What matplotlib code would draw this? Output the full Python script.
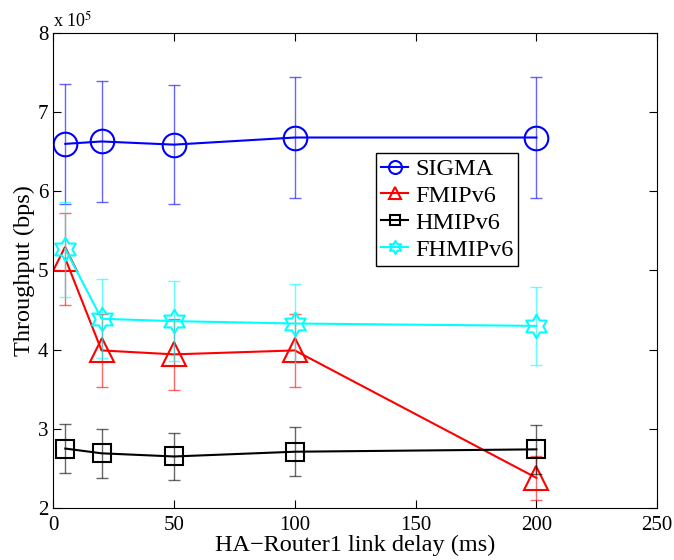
import numpy as np
import matplotlib
matplotlib.use('Agg')
import matplotlib.pyplot as plt
from matplotlib.path import Path

plt.rcParams['font.family'] = ['Liberation Serif', 'DejaVu Serif']
plt.rcParams['mathtext.fontset'] = 'stix'

delay = [5, 20, 50, 100, 200]

sigma = [6.60, 6.63, 6.59, 6.68, 6.68]
sigma_err = [0.76, 0.76, 0.755, 0.765, 0.76]
fmip = [5.15, 3.99, 3.94, 3.99, 2.38]
fmip_err = [0.58, 0.46, 0.45, 0.46, 0.28]
hmip = [2.75, 2.69, 2.65, 2.71, 2.74]
hmip_err = [0.31, 0.31, 0.30, 0.31, 0.31]
fhmip = [5.27, 4.39, 4.36, 4.33, 4.30]
fhmip_err = [0.60, 0.50, 0.505, 0.495, 0.49]

# six pointed star (matlab 'hexagram')
ang = np.arange(12) * np.pi / 6 + np.pi / 2
rad = np.where(np.arange(12) % 2 == 0, 1.0, 0.58)
verts = np.column_stack([rad * np.cos(ang), rad * np.sin(ang)])
verts = np.vstack([verts, verts[0]])
hexagram = Path(verts, [Path.MOVETO] + [Path.LINETO] * 11 + [Path.CLOSEPOLY])

fig = plt.figure(figsize=(6.74, 5.6), dpi=100)
ax = fig.add_axes([0.079, 0.093, 0.896, 0.848])

series = [
    ('SIGMA', sigma, sigma_err, 'blue', 'o', 17),
    ('FMIPv6', fmip, fmip_err, 'red', '^', 17),
    ('HMIPv6', hmip, hmip_err, 'black', 's', 12.5),
    ('FHMIPv6', fhmip, fhmip_err, 'cyan', hexagram, 17),
]

for name, y, e, c, m, ms in series:
    ax.errorbar(delay, y, yerr=e, fmt='none', ecolor=c, elinewidth=1.0,
                capsize=4, capthick=1.0, alpha=0.6)
    ax.plot(delay, y, color=c, lw=1.5, marker=m, ms=ms, mfc='none',
            mec=c, mew=1.5, label=name)

ax.set_xlim(0, 250)
ax.set_ylim(2, 8)
ax.set_xticks([0, 50, 100, 150, 200, 250])
ax.set_yticks([2, 3, 4, 5, 6, 7, 8])
ax.tick_params(direction='in', top=True, right=True, labelsize=15, length=6)
ax.tick_params(axis='x', pad=6)
ax.set_xlabel('HA\u2212Router1 link delay (ms)', fontsize=17.5, labelpad=0)
ax.set_ylabel('Throughput (bps)', fontsize=17.5, labelpad=2)
ax.text(0.0, 1.005, r'x 10$^5$', transform=ax.transAxes, fontsize=13,
        ha='left', va='bottom')

leg = ax.legend(loc='upper left', bbox_to_anchor=(0.535, 0.747), borderaxespad=0,
                fontsize=17.5, markerscale=0.55, handlelength=1.1, handletextpad=0.3,
                borderpad=0.2, labelspacing=0.2, fancybox=False, framealpha=1)
leg.get_frame().set_edgecolor('black')

fig.savefig('out.png', dpi=100)
